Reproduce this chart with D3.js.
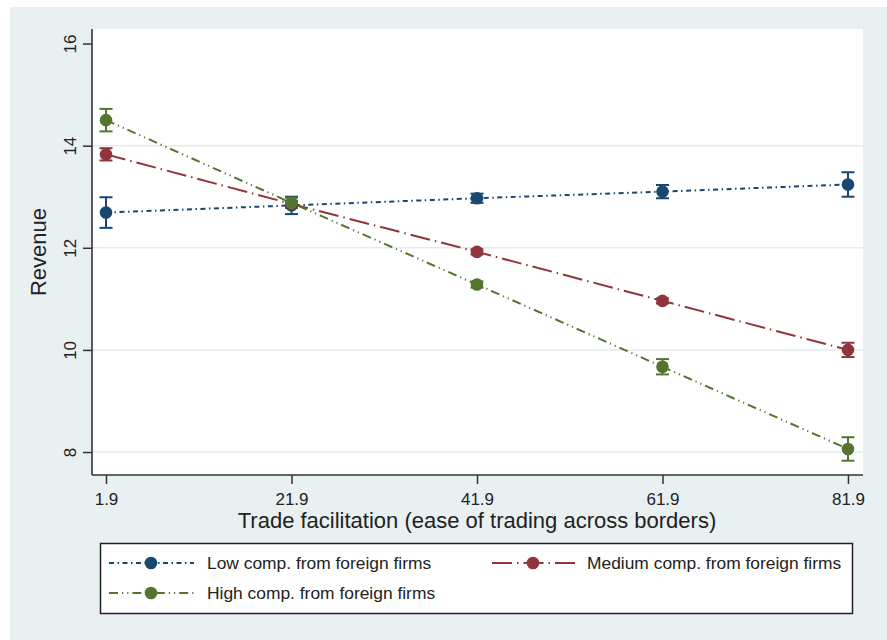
<!DOCTYPE html>
<html>
<head>
<meta charset="utf-8">
<script src="https://cdn.jsdelivr.net/npm/d3@7"></script>
<style>
  html, body { margin: 0; padding: 0; background: #ffffff; }
  svg { display: block; font-family: "Liberation Sans", Arial, sans-serif; }
</style>
</head>
<body>
<svg id="chart" width="887" height="640"></svg>
<script>
// Predictive margins of revenue by trade facilitation, per competition level
const tradeLevels = [1.9, 21.9, 41.9, 61.9, 81.9];
const xTickLabels = ["1.9", "21.9", "41.9", "61.9", "81.9"];
const yTicks = [8, 10, 12, 14, 16];
const yGridTicks = [8, 10, 12, 14];

const seriesNames = ["Low comp. from foreign firms", "Medium comp. from foreign firms", "High comp. from foreign firms"];
const lowValues    = [12.69, 12.83, 12.97, 13.10, 13.24];
const lowHalfCI    = [0.30, 0.17, 0.09, 0.13, 0.24];
const mediumValues = [13.83, 12.86, 11.92, 10.96, 10.00];
const mediumHalfCI = [0.12, 0.06, 0.05, 0.05, 0.14];
const highValues   = [14.50, 12.88, 11.28, 9.67, 8.06];
const highHalfCI   = [0.22, 0.10, 0.06, 0.15, 0.23];

const colors = ["#1a476f", "#90353b", "#55752f"];
const dashes = ["5,3.5,1.5,3.5", "20,5,1.5,5", "9,4,1.2,4,1.2,4"];

const series = [
  { name: seriesNames[0], values: lowValues, half: lowHalfCI, color: colors[0], dash: dashes[0] },
  { name: seriesNames[1], values: mediumValues, half: mediumHalfCI, color: colors[1], dash: dashes[1] },
  { name: seriesNames[2], values: highValues, half: highHalfCI, color: colors[2], dash: dashes[2] }
];

const svg = d3.select("#chart");

// outer graph region
svg.append("rect").attr("x", 10).attr("y", 7).attr("width", 877).attr("height", 633).attr("fill", "#e9f0f2");

const plot = { left: 92, right: 863, top: 29, bottom: 475 };
svg.append("rect").attr("x", plot.left).attr("y", plot.top)
  .attr("width", plot.right - plot.left).attr("height", plot.bottom - plot.top).attr("fill", "#ffffff");

const x = d3.scaleLinear().domain([0.39, 83.52]).range([plot.left, plot.right]);
const y = d3.scaleLinear().domain([7.55, 16.285]).range([plot.bottom, plot.top]);

// horizontal gridlines
svg.append("g").selectAll("line").data(yGridTicks).join("line")
  .attr("x1", plot.left).attr("x2", plot.right)
  .attr("y1", d => y(d)).attr("y2", d => y(d))
  .attr("stroke", "#e3ebee").attr("stroke-width", 1.5);

// y axis
const yAxis = svg.append("g").attr("transform", `translate(${plot.left},0)`)
  .call(d3.axisLeft(y).tickValues(yTicks).tickSize(9).tickSizeOuter(0).tickFormat(d3.format("d")));
yAxis.select(".domain").attr("stroke", "#333").attr("stroke-width", 1.6).attr("d", `M0,${plot.top}V${plot.bottom}`);
yAxis.selectAll(".tick line").attr("stroke", "#333").attr("stroke-width", 1.5);
yAxis.selectAll(".tick text")
  .attr("x", 0).attr("y", 0).attr("dy", null)
  .attr("transform", "translate(-16,0) rotate(-90)")
  .attr("text-anchor", "middle")
  .attr("fill", "#222").attr("font-size", 17).attr("font-family", "Liberation Sans, Arial, sans-serif");

// x axis
const xAxis = svg.append("g").attr("transform", `translate(0,${plot.bottom})`)
  .call(d3.axisBottom(x).tickValues(tradeLevels).tickSize(9).tickSizeOuter(0)
    .tickFormat((d, i) => xTickLabels[i]));
xAxis.select(".domain").attr("stroke", "#333").attr("stroke-width", 1.6).attr("d", `M${plot.left},0H${plot.right}`);
xAxis.selectAll(".tick line").attr("stroke", "#333").attr("stroke-width", 1.5);
xAxis.selectAll(".tick text").attr("y", 0).attr("dy", null)
  .attr("transform", "translate(0,30)")
  .attr("fill", "#222").attr("font-size", 17).attr("font-family", "Liberation Sans, Arial, sans-serif");

// axis titles
svg.append("text").attr("x", (x(tradeLevels[0]) + x(tradeLevels[4])) / 2).attr("y", 528)
  .attr("text-anchor", "middle").attr("font-size", 22).attr("fill", "#222")
  .text("Trade facilitation (ease of trading across borders)");
svg.append("text").attr("transform", `translate(46,${(plot.top + plot.bottom) / 2}) rotate(-90)`)
  .attr("text-anchor", "middle").attr("font-size", 22).attr("fill", "#222")
  .text("Revenue");

// confidence intervals
const capHalf = 6.5;
series.forEach(s => {
  const g = svg.append("g").attr("stroke", s.color).attr("stroke-width", 2).attr("fill", "none");
  s.values.forEach((v, i) => {
    const cx = x(tradeLevels[i]);
    const lo = y(v - s.half[i]), hi = y(v + s.half[i]);
    g.append("line").attr("x1", cx).attr("x2", cx).attr("y1", lo).attr("y2", hi);
    g.append("line").attr("x1", cx - capHalf).attr("x2", cx + capHalf).attr("y1", lo).attr("y2", lo);
    g.append("line").attr("x1", cx - capHalf).attr("x2", cx + capHalf).attr("y1", hi).attr("y2", hi);
  });
});

// connected lines with markers
const line = d3.line().x((d, i) => x(tradeLevels[i])).y(d => y(d));
series.forEach(s => {
  svg.append("path").datum(s.values).attr("d", line)
    .attr("fill", "none").attr("stroke", s.color).attr("stroke-width", 2)
    .attr("stroke-dasharray", s.dash);
  svg.append("g").selectAll("circle").data(s.values).join("circle")
    .attr("cx", (d, i) => x(tradeLevels[i])).attr("cy", d => y(d))
    .attr("r", 6.3).attr("fill", s.color);
});

// legend
svg.append("rect").attr("x", 100.5).attr("y", 543.5).attr("width", 752).attr("height", 70)
  .attr("fill", "#ffffff").attr("stroke", "#222").attr("stroke-width", 1.5);
const legendPos = [
  { x0: 109, x1: 194, mx: 151, tx: 207, y: 563 },
  { x0: 492, x1: 575, mx: 533, tx: 587, y: 563 },
  { x0: 109, x1: 194, mx: 151, tx: 207, y: 593 }
];
series.forEach((s, i) => {
  const p = legendPos[i];
  svg.append("line").attr("x1", p.x0).attr("x2", p.x1).attr("y1", p.y).attr("y2", p.y)
    .attr("stroke", s.color).attr("stroke-width", 2).attr("stroke-dasharray", s.dash);
  svg.append("circle").attr("cx", p.mx).attr("cy", p.y).attr("r", 6.3).attr("fill", s.color);
  svg.append("text").attr("x", p.tx).attr("y", p.y + 6).attr("font-size", 17.4).attr("fill", "#222")
    .text(s.name);
});
</script>
</body>
</html>
